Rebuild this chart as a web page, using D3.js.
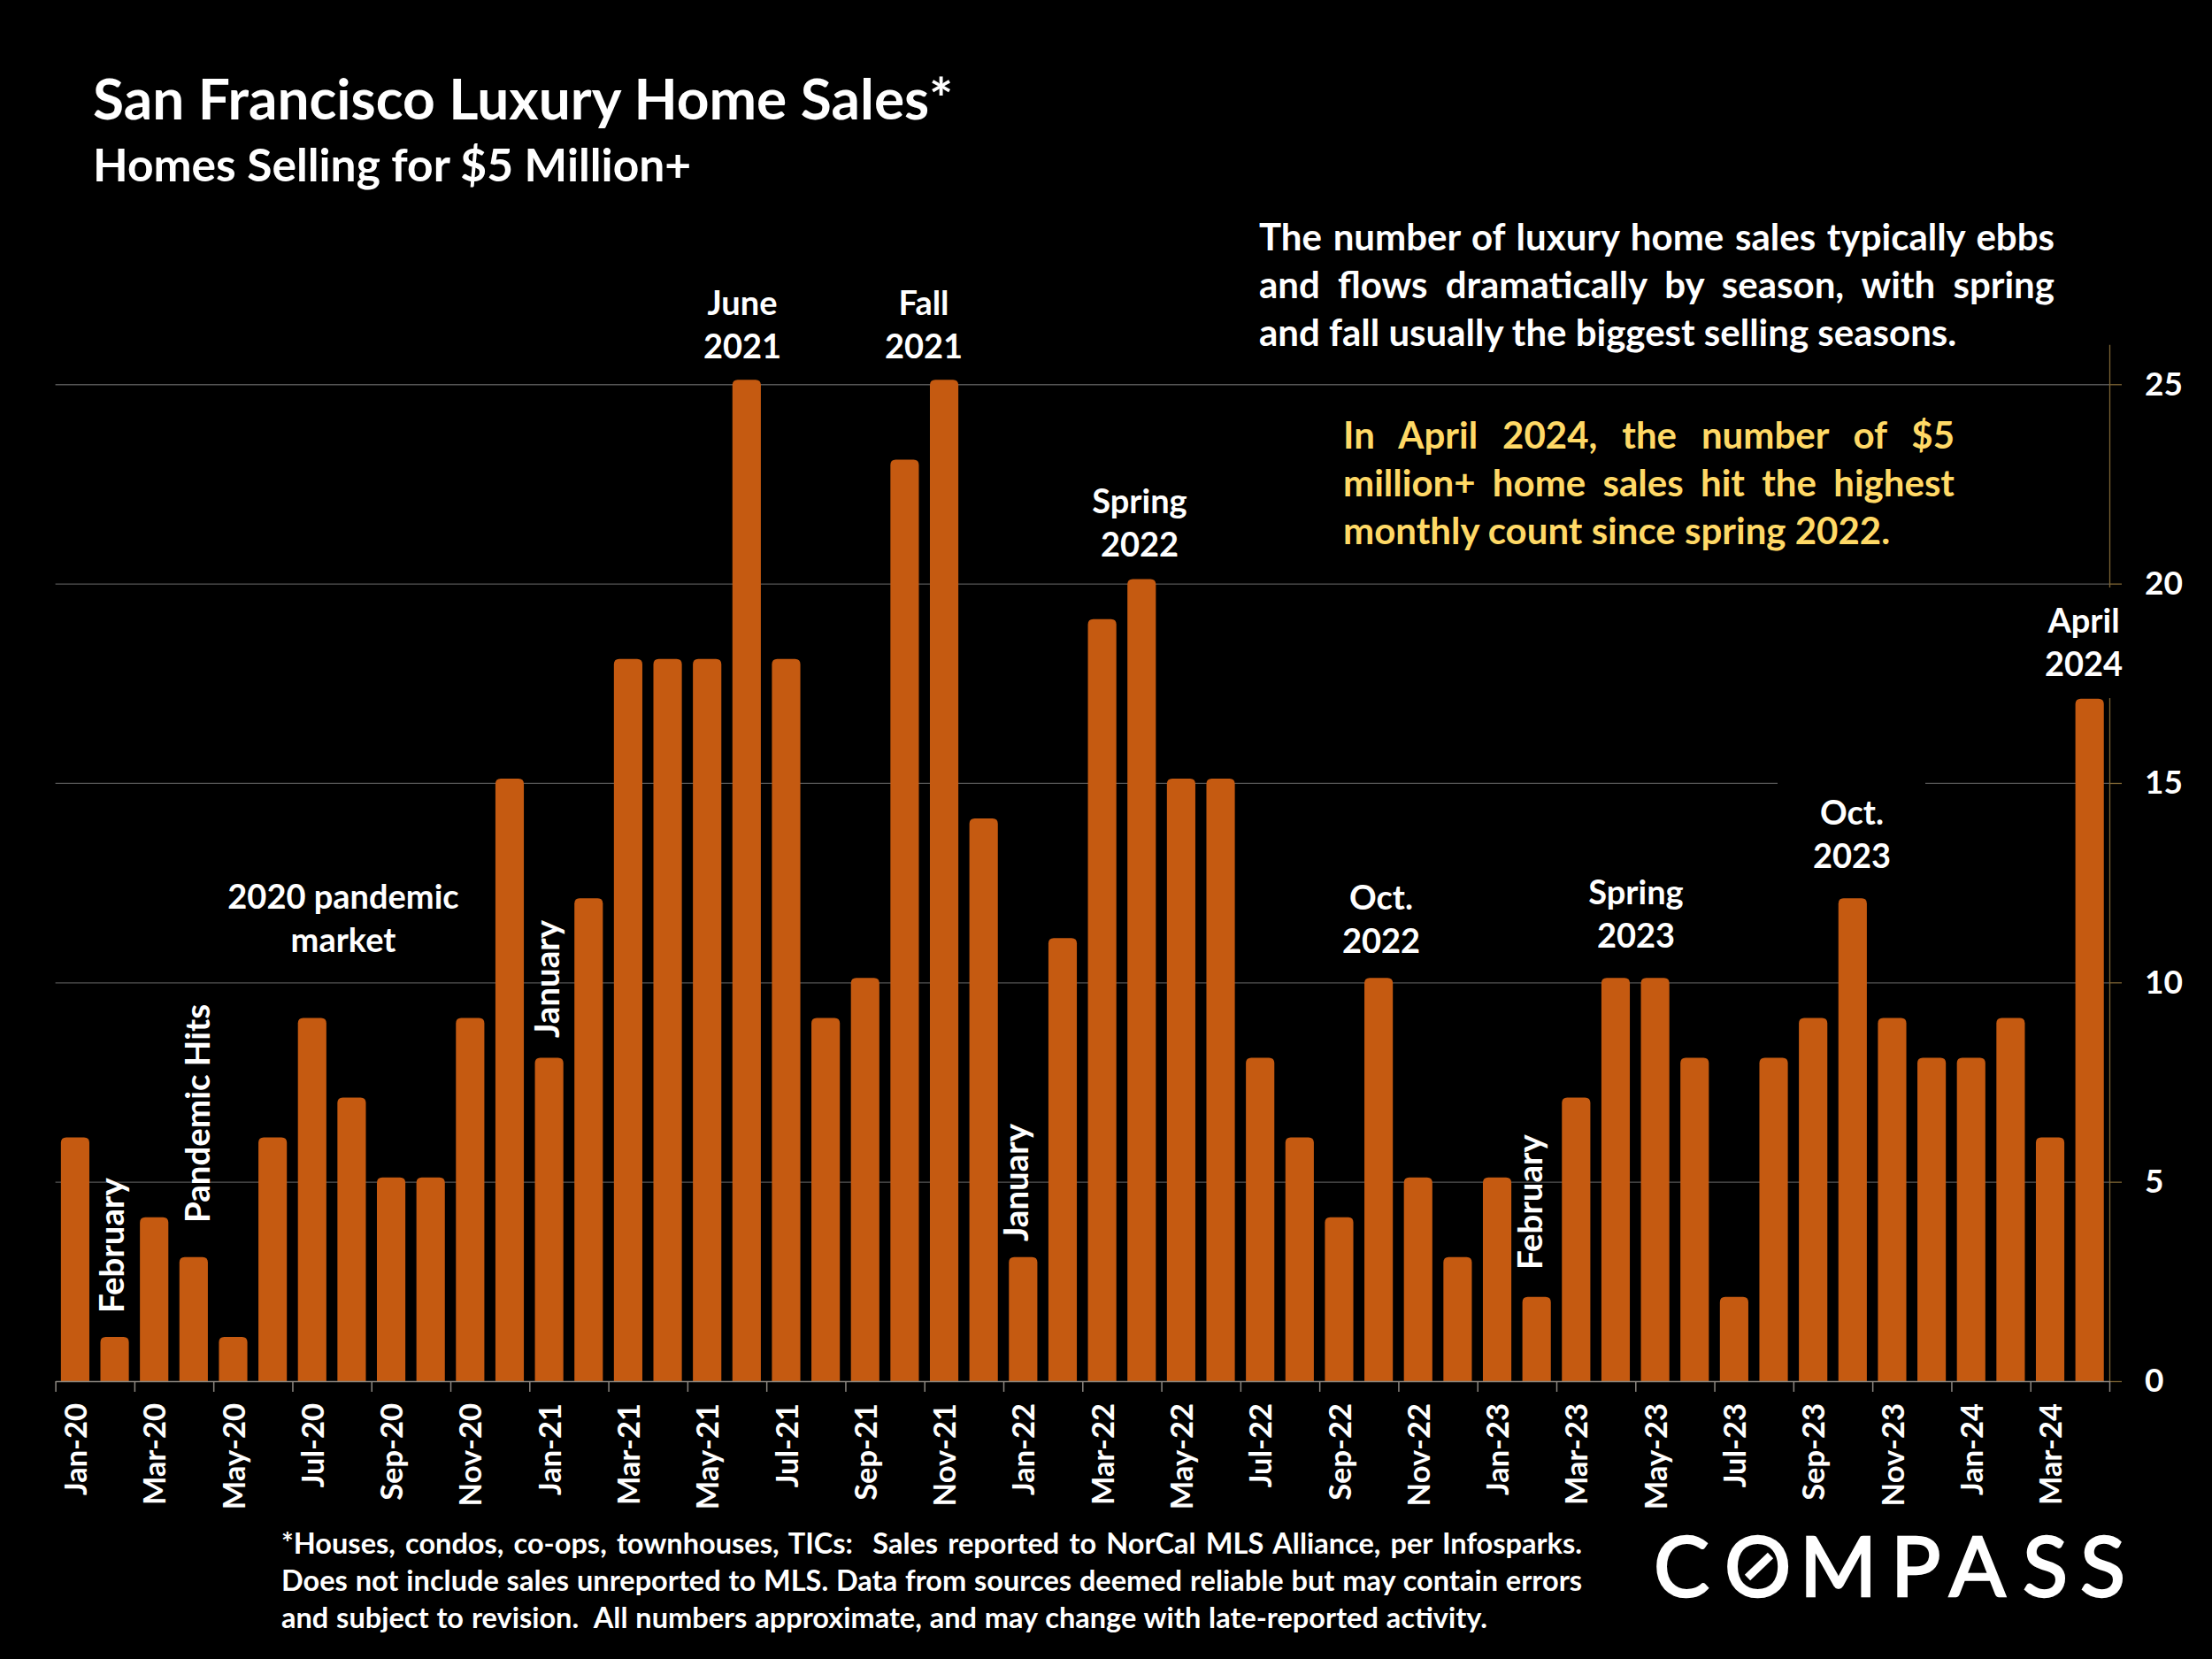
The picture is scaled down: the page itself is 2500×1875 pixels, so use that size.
<!DOCTYPE html>
<html>
<head>
<meta charset="utf-8">
<title>San Francisco Luxury Home Sales</title>
<script src="https://cdn.jsdelivr.net/npm/d3@7"></script>
<style>
  html, body { margin: 0; background: #000; }
  text { font-family: Lato, sans-serif; font-weight: 700; fill: #fff; }
</style>
</head>
<body>
<div class="board"></div>
<script>
// chart values
var months = [
  'Jan-20','Feb-20','Mar-20','Apr-20','May-20','Jun-20','Jul-20','Aug-20','Sep-20','Oct-20','Nov-20','Dec-20',
  'Jan-21','Feb-21','Mar-21','Apr-21','May-21','Jun-21','Jul-21','Aug-21','Sep-21','Oct-21','Nov-21','Dec-21',
  'Jan-22','Feb-22','Mar-22','Apr-22','May-22','Jun-22','Jul-22','Aug-22','Sep-22','Oct-22','Nov-22','Dec-22',
  'Jan-23','Feb-23','Mar-23','Apr-23','May-23','Jun-23','Jul-23','Aug-23','Sep-23','Oct-23','Nov-23','Dec-23',
  'Jan-24','Feb-24','Mar-24','Apr-24'
];
var sales = [
  6,1,4,3,1,6,9,7,5,5,9,15,
  8,12,18,18,18,25,18,9,10,23,25,14,
  3,11,19,20,15,15,8,6,4,10,5,3,
  5,2,7,10,10,8,2,8,9,12,9,8,
  8,9,6,17
];
var monthTicks = [
  'Jan-20','Mar-20','May-20','Jul-20','Sep-20','Nov-20',
  'Jan-21','Mar-21','May-21','Jul-21','Sep-21','Nov-21',
  'Jan-22','Mar-22','May-22','Jul-22','Sep-22','Nov-22',
  'Jan-23','Mar-23','May-23','Jul-23','Sep-23','Nov-23',
  'Jan-24','Mar-24'
];
var countTicks = [0, 5, 10, 15, 20, 25];

// text
var introLines = [
  'The number of luxury home sales typically ebbs',
  'and flows dramatically by season, with spring',
  'and fall usually the biggest selling seasons.'
];
var highlightLines = [
  'In April 2024, the number of $5',
  'million+ home sales hit the highest',
  'monthly count since spring 2022.'
];
var footnoteLines = [
  '*Houses, condos, co-ops, townhouses, TICs:  Sales reported to NorCal MLS Alliance, per Infosparks.',
  'Does not include sales unreported to MLS. Data from sources deemed reliable but may contain errors',
  'and subject to revision.  All numbers approximate, and may change with late-reported activity.'
];
var calloutText = [
  ['June', '2021'], ['Fall', '2021'], ['Spring', '2022'], ['Oct.', '2022'],
  ['Spring', '2023'], ['Oct.', '2023'], ['April', '2024'], ['2020 pandemic', 'market']
];
var sideText = ['February', 'Pandemic Hits', 'January', 'January', 'February'];

// where the text goes: centre x, first baseline
var calloutSpots = [
  [839, 356], [1044, 356], [1288, 580], [1561, 1028],
  [1849, 1022], [2093, 932], [2355, 715], [388, 1027]
];
// rotated labels: baseline x, start y
var sideSpots = [[140, 1484], [237, 1382], [632, 1173], [1162, 1403], [1743, 1435]];

var svg = d3.select('.board').append('svg')
  .attr('width', 2500)
  .attr('height', 1875)
  .style('display', 'block');

svg.append('rect').attr('width', 2500).attr('height', 1875).attr('fill', '#000');

// scales
var left = 62.6, right = 2384, bottom = 1561, top_ = 389.2;
var x = d3.scaleBand().domain(months).range([left, right]).paddingInner(0.28).paddingOuter(0.14);
var y = d3.scaleLinear().domain([0, 26]).range([bottom, top_]);
var edges = d3.scaleLinear().domain([0, months.length]).range([left, right]);

// gridlines
var grid = svg.append('g')
  .attr('transform', 'translate(' + right + ',0)')
  .call(d3.axisRight(y).tickValues(countTicks.slice(1)).tickSize(-(right - left)).tickFormat(''));
grid.select('.domain').remove();
grid.selectAll('line').attr('stroke', '#555').attr('stroke-width', 1.3);

// right axis
var yAxis = svg.append('g')
  .attr('transform', 'translate(' + right + ',0)')
  .call(d3.axisRight(y).tickValues(countTicks).tickSize(14).tickSizeOuter(0).tickPadding(26));
yAxis.select('.domain').attr('stroke', '#7d6434').attr('stroke-width', 1.3);
yAxis.selectAll('line').attr('stroke', '#7d6434').attr('stroke-width', 1.3);
yAxis.selectAll('text').style('font-size', '37px').style('font-family', 'Lato').attr('fill', '#fff');

// text boxes in the original sit on top of the lines
svg.append('rect').attr('x', 2009).attr('y', 880).attr('width', 167).attr('height', 120).attr('fill', '#000');
svg.append('rect').attr('x', 2300).attr('y', 664).attr('width', 96).attr('height', 125).attr('fill', '#000');

// bars, slightly proud of the value with a soft top like the original outline
var barPad = 5, barRound = 6;
svg.append('g').selectAll('path')
  .data(months)
  .enter()
  .append('path')
  .attr('fill', '#c55a11')
  .attr('d', function(m, i) {
    var x0 = x(m), x1 = x0 + x.bandwidth(), t = y(sales[i]) - barPad;
    return 'M' + x0 + ',' + (bottom + 1) + 'V' + (t + barRound) +
      'Q' + x0 + ',' + t + ' ' + (x0 + barRound) + ',' + t +
      'H' + (x1 - barRound) +
      'Q' + x1 + ',' + t + ' ' + x1 + ',' + (t + barRound) +
      'V' + (bottom + 1) + 'Z';
  });

// x axis: line and ticks on band edges, labels on band centres
var xEdges = svg.append('g')
  .attr('transform', 'translate(0,' + bottom + ')')
  .call(d3.axisBottom(edges).tickValues(d3.range(0, months.length + 1, 2)).tickSize(12).tickSizeOuter(0).tickFormat(''));
xEdges.select('.domain').attr('stroke', '#8c8780').attr('stroke-width', 1.5);
xEdges.selectAll('line').attr('stroke', '#8c8780').attr('stroke-width', 1.5);

var xAxis = svg.append('g')
  .attr('transform', 'translate(0,' + bottom + ')')
  .call(d3.axisBottom(x).tickValues(monthTicks).tickSize(0));
xAxis.select('.domain').remove();
xAxis.selectAll('text')
  .attr('transform', 'rotate(-90)')
  .attr('x', -25)
  .attr('y', 1)
  .attr('dy', '.35em')
  .attr('text-anchor', 'end')
  .style('font-size', '34.5px')
  .style('font-family', 'Lato')
  .attr('fill', '#fff');

// stretches word gaps so a line fills the width, like justified text
var justify = function(node, width) {
  var gaps = node.textContent.split(' ').length - 1;
  var extra = (width - node.getComputedTextLength()) / gaps;
  d3.select(node).style('word-spacing', extra + 'px');
};

// titles
svg.append('text').attr('x', 105).attr('y', 135).style('font-size', '64px')
  .text('San Francisco Luxury Home Sales*');
svg.append('text').attr('x', 105).attr('y', 205).style('font-size', '51.5px')
  .text('Homes Selling for $5 Million+');

// intro paragraphs
svg.append('g').selectAll('text').data(introLines).enter().append('text')
  .attr('x', 1423)
  .attr('y', function(d, i) { return 282.5 + i * 54; })
  .style('font-size', '42px')
  .text(function(d) { return d; })
  .each(function(d, i) { if (i < 2) justify(this, 899); });

svg.append('g').selectAll('text').data(highlightLines).enter().append('text')
  .attr('x', 1518)
  .attr('y', function(d, i) { return 506.5 + i * 54; })
  .style('font-size', '42px')
  .style('fill', '#ffd966')
  .text(function(d) { return d; })
  .each(function(d, i) { if (i < 2) justify(this, 691); });

// footnote
svg.append('g').selectAll('text').data(footnoteLines).enter().append('text')
  .attr('x', 318)
  .attr('y', function(d, i) { return 1756 + i * 42; })
  .style('font-size', '32.5px')
  .style('white-space', 'pre')
  .text(function(d) { return d; })
  .each(function(d, i) { if (i < 2) justify(this, 1470); else justify(this, 1363); });

// callouts over the peaks
calloutText.forEach(function(lines, i) {
  svg.append('g').selectAll('text').data(lines).enter().append('text')
    .attr('x', calloutSpots[i][0])
    .attr('y', function(d, j) { return calloutSpots[i][1] + j * 49; })
    .attr('text-anchor', 'middle')
    .style('font-size', '38px')
    .text(function(d) { return d; });
});

sideText.forEach(function(label, i) {
  svg.append('text')
    .attr('transform', 'translate(' + sideSpots[i][0] + ',' + sideSpots[i][1] + ') rotate(-90)')
    .style('font-size', '38.5px')
    .text(label);
});

// logo
svg.append('text')
  .attr('x', '1869 1949 2034 2137 2203 2286 2351')
  .attr('y', 1804)
  .style('font-size', '94px')
  .style('font-weight', '400')
  .style('stroke', '#fff')
  .style('stroke-width', '2.5px')
  .text('COMPASS');
svg.append('line')
  .attr('x1', 1975).attr('y1', 1783).attr('x2', 2001).attr('y2', 1758)
  .attr('stroke', '#fff').attr('stroke-width', 9);
</script>
</body>
</html>
